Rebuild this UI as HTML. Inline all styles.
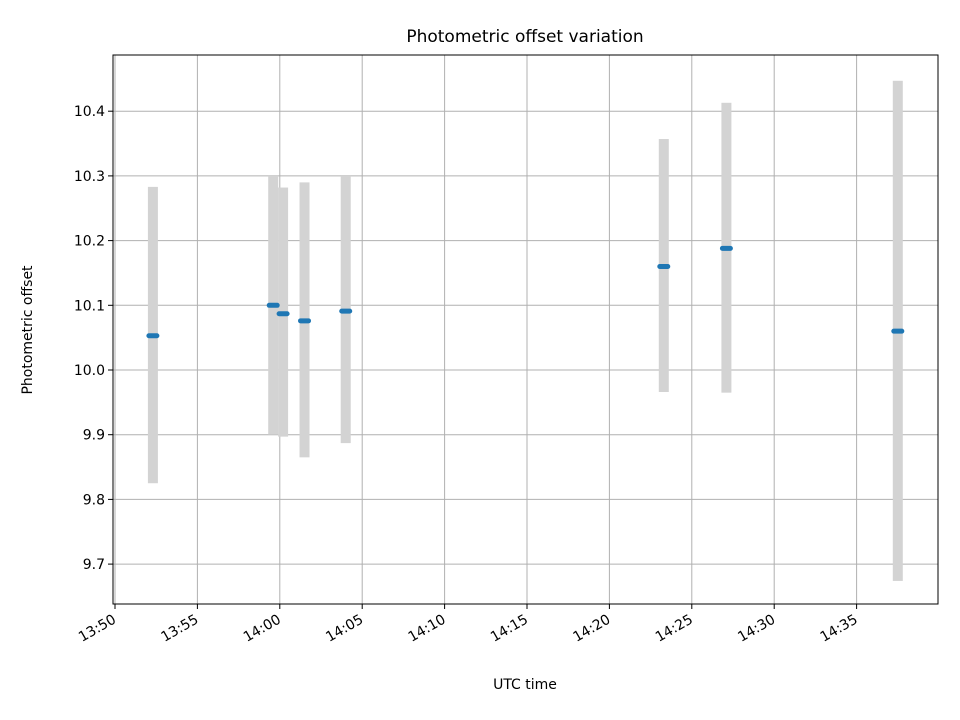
<!DOCTYPE html>
<html><head><meta charset="utf-8"><style>body{margin:0;background:#fff}svg{display:block}text{font-family:"DejaVu Sans","Liberation Sans",sans-serif;fill:#000}</style></head>
<body>
<svg id="c" width="960" height="720"></svg>
<script>
const times=["13:52.3","13:59.6","14:00.2","14:01.5","14:04.0","14:23.3","14:27.1","14:37.5"];
const values=[10.053,10.100,10.087,10.076,10.091,10.160,10.188,10.060];
const upper=[10.283,10.300,10.282,10.290,10.300,10.357,10.413,10.447];
const lower=[9.825,9.900,9.897,9.865,9.887,9.966,9.965,9.674];
const yTicks=[9.7,9.8,9.9,10.0,10.1,10.2,10.3,10.4];
const xTickLabels=["13:50","13:55","14:00","14:05","14:10","14:15","14:20","14:25","14:30","14:35"];
const NS="http://www.w3.org/2000/svg",svg=document.getElementById('c');
const L=113,R=938,T=55,B=604;
function mins(s){const [h,m]=s.split(':');return (+h)*60+parseFloat(m);}
const x0=mins("13:50");
function X(m){return 115+(m-x0)*82.4/5;}
function Y(v){return 370-(v-10)*647;}
function el(t,a,p){const e=document.createElementNS(NS,t);for(const k in a)e.setAttribute(k,a[k]);(p||svg).appendChild(e);return e;}
const grid=el('g',{});
xTickLabels.forEach(l=>{const x=X(mins(l));
 el('line',{x1:x,x2:x,y1:T,y2:B,stroke:'#b0b0b0','stroke-width':1},grid);
 el('line',{x1:x,x2:x,y1:B,y2:B+5,stroke:'#000'});
 const t=el('text',{x:x+2,y:B+18,'font-size':14,'text-anchor':'end',transform:`rotate(-30 ${x+2} ${B+18})`});t.textContent=l;
 });
yTicks.forEach(v=>{const y=Y(v);
 el('line',{x1:L,x2:R,y1:y,y2:y,stroke:'#b0b0b0','stroke-width':1},grid);
 el('line',{x1:L-5,x2:L,y1:y,y2:y,stroke:'#000'});
 const t=el('text',{x:L-8,y:y+5,'font-size':14,'text-anchor':'end'});t.textContent=v.toFixed(1);
 });
times.forEach((s,i)=>{const x=X(mins(s));
 const b=el('rect',{x:x-5,y:Y(upper[i]),width:10,height:Y(lower[i])-Y(upper[i]),fill:'#d3d3d3'});
 });
times.forEach((s,i)=>{const x=X(mins(s));
 const p=el('line',{x1:x-4,x2:x+4,y1:Y(values[i]),y2:Y(values[i]),stroke:'#1f77b4','stroke-width':5,'stroke-linecap':'round'});
 });
const f=el('rect',{x:L,y:T,width:R-L,height:B-T,fill:'none',stroke:'#000','stroke-width':1});

let t=el('text',{x:525,y:42,'font-size':17,'text-anchor':'middle'});t.textContent='Photometric offset variation';

t=el('text',{x:525,y:689,'font-size':14,'text-anchor':'middle'});t.textContent='UTC time';

t=el('text',{x:32,y:330,'font-size':14,'text-anchor':'middle',transform:'rotate(-90 32 330)'});t.textContent='Photometric offset';

</script>
</body></html>
